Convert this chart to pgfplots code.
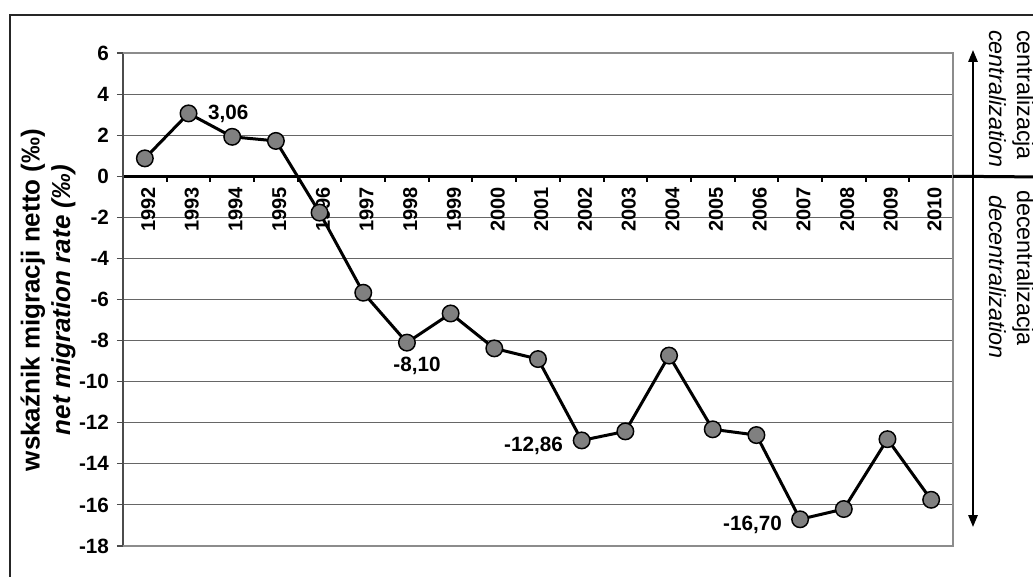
\documentclass[border=0pt]{standalone}
\usepackage{fontspec}
\setmainfont{Liberation Sans}
\usepackage{pgfplots}
\pgfplotsset{compat=1.18}
\usetikzlibrary{arrows.meta}

\pgfplotstableread{
x year val
1 1992 0.87
2 1993 3.06
3 1994 1.92
4 1995 1.72
5 1996 -1.77
6 1997 -5.67
7 1998 -8.10
8 1999 -6.68
9 2000 -8.38
10 2001 -8.90
11 2002 -12.86
12 2003 -12.42
13 2004 -8.73
14 2005 -12.32
15 2006 -12.60
16 2007 -16.70
17 2008 -16.20
18 2009 -12.80
19 2010 -15.75
}\netmig

\begin{document}
\begin{tikzpicture}[x=0.75pt,y=0.75pt]
\path[use as bounding box] (0,0) rectangle (1033,576);
\draw[line width=1.5pt, black!85] (9.5,-10) -- (9.5,561) -- (1045,561);
\begin{axis}[
  at={(92.25pt,22.5pt)}, anchor=south west,
  scale only axis, width=622.5pt, height=369.75pt,
  xmin=0.5, xmax=19.5, ymin=-18, ymax=6,
  axis x line*=middle, axis y line*=left,
  x axis line style={line width=2.25pt, black, -},
  y axis line style={line width=0.9pt, black!70, -},
  /pgf/number format/assume math mode=true,
  xtick={1,...,19},
  xticklabels={1992,1993,1994,1995,1996,1997,1998,1999,2000,2001,2002,2003,2004,2005,2006,2007,2008,2009,2010},
  minor xtick={0.5,1.5,...,19.5},
  tick align=outside,
  major x tick style={draw=none},
  minor x tick style={black, line width=1.5pt},
  minor tick length=4pt,
  ytick={-18,-16,...,6},
  major y tick style={black!70, line width=0.8pt},
  major tick length=4.5pt,
  xticklabel style={rotate=90, anchor=east, font=\bfseries\fontsize{15}{16}\selectfont, yshift=-2.5pt},
  yticklabel style={font=\bfseries\fontsize{15.5}{16}\selectfont, xshift=-2.5pt},
  ymajorgrids, major grid style={black!60, line width=0.75pt},
  clip=false,
]
\addplot[black, line width=2.25pt, mark=*, mark size=6.2pt,
  mark options={fill=black!50, draw=black, line width=1.1pt}]
  table[x=x, y=val] {\netmig};
\node[anchor=west, inner sep=0, xshift=14.5pt, font=\bfseries\fontsize{15.5}{16}\selectfont] at (axis cs:2,3.06) {3,06};
\node[anchor=north, inner sep=0, xshift=7.5pt, yshift=-10.5pt, font=\bfseries\fontsize{15.5}{16}\selectfont] at (axis cs:7,-8.10) {-8,10};
\node[anchor=east, inner sep=0, xshift=-14pt, yshift=-4pt, font=\bfseries\fontsize{15.5}{16}\selectfont] at (axis cs:11,-12.86) {-12,86};
\node[anchor=east, inner sep=0, xshift=-13.5pt, yshift=-4.5pt, font=\bfseries\fontsize{15.5}{16}\selectfont] at (axis cs:16,-16.70) {-16,70};
\coordinate (zr) at (axis cs:19.5,0);
\draw[black!45, line width=1.5pt] (rel axis cs:0,1) -- (rel axis cs:1,1) -- (rel axis cs:1,0) -- (rel axis cs:0,0);
\end{axis}
\draw[line width=2.25pt, black] (zr) -- (1045,399);
\draw[line width=1.5pt, black, {Triangle[length=9pt,width=7pt]}-{Triangle[length=9pt,width=7pt]}] (973,526) -- (973,49);
\node[rotate=-90, anchor=base west, inner sep=0, font=\fontsize{17.5}{18}\selectfont] at (1017,546) {centralizacja};
\node[rotate=-90, anchor=base west, inner sep=0, font=\itshape\fontsize{17.5}{18}\selectfont] at (989,546) {centralization};
\node[rotate=-90, anchor=base west, inner sep=0, font=\fontsize{17.5}{18}\selectfont] at (1017,386) {decentralizacja};
\node[rotate=-90, anchor=base west, inner sep=0, font=\itshape\fontsize{17.5}{18}\selectfont] at (989,381) {decentralization};
\node[rotate=90, align=center, font=\bfseries\fontsize{19.5}{23}\selectfont] at (48,276) {wskaźnik migracji netto (‰)\\\textit{net migration rate (‰)}};
\end{tikzpicture}
\end{document}
